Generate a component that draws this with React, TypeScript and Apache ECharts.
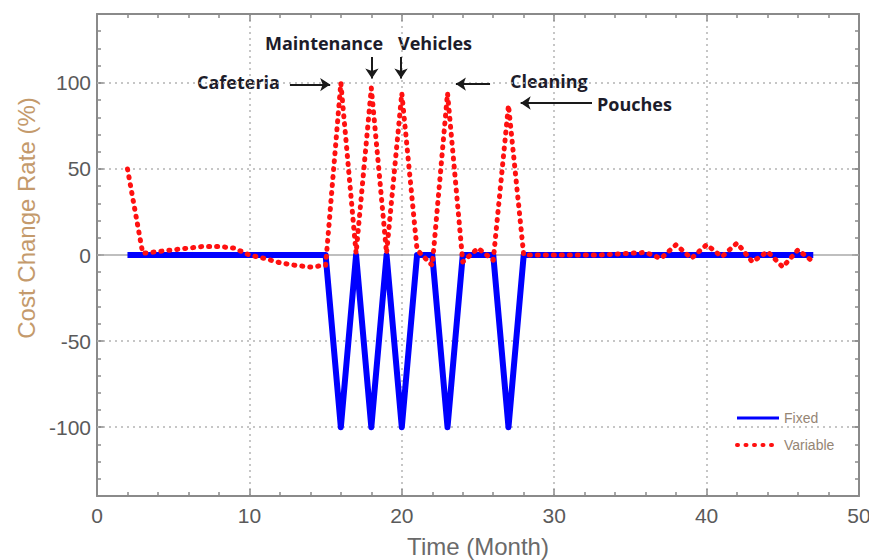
import React, { useEffect, useRef } from "react";
import * as echarts from "echarts";

const months = [2, 3, 4, 5, 6, 7, 8, 9, 10, 11, 12, 13, 14, 15, 16, 17, 18, 19, 20, 21, 22, 23, 24, 25, 26, 27, 28, 29, 30, 31, 32, 33, 34, 35, 36, 37, 38, 39, 40, 41, 42, 43, 44, 45, 46, 47];
const fixedValues = [0, 0, 0, 0, 0, 0, 0, 0, 0, 0, 0, 0, 0, 0, -100, 0, -100, 0, -100, 0, 0, -100, 0, 0, 0, -100, 0, 0, 0, 0, 0, 0, 0, 0, 0, 0, 0, 0, 0, 0, 0, 0, 0, 0, 0, 0];
const variableValues = [50, 1, 2, 3, 4, 5, 5, 4, 0, -2, -4.5, -6, -7, -6, 100, 1, 97, 1, 94, 3, -6, 94, -4, 4, -3, 87, 0, 0, 0, 0, 0, 0, 0.5, 1, 1.5, -2, 6, -2, 6, -1, 7, -4, 2, -7, 3, -4];
const seriesNames = ["Fixed", "Variable"];
const yTickLabels = [-100, -50, 0, 50, 100];
const yGridValues = [-100, -50, 50, 100];
const annotations = [
  { text: "Cafeteria", x: 197, y: 82 },
  { text: "Maintenance", x: 265, y: 43 },
  { text: "Vehicles", x: 398, y: 43 },
  { text: "Cleaning", x: 510, y: 81 },
  { text: "Pouches", x: 597, y: 104 },
];
// arrows in data coordinates: [fromX, fromY, toX, toY]
const arrows = [
  [12.66, 99, 15.3, 99],
  [18.04, 115, 18.04, 102.5],
  [19.95, 115, 19.95, 102.5],
  [25.79, 99.3, 23.55, 99.3],
  [32.48, 88.3, 27.8, 88.3],
];

const FRAME = "#8a8a8a";
const GRID = "#b4b4b4";

export default function App() {
  const ref = useRef<HTMLDivElement>(null);
  useEffect(() => {
    const chart = echarts.init(ref.current as HTMLDivElement, null, { renderer: "svg" });
    const fixedData = months.map((m, i) => [m, fixedValues[i]]);
    const variableData = months.map((m, i) => [m, variableValues[i]]);
    const axisLineStyle = { color: FRAME, width: 2 };
    const option: any = {
      animation: false,
      backgroundColor: "#ffffff",
      grid: { left: 97, top: 14, width: 762, height: 482, containLabel: false, outerBoundsMode: "none" },
      legend: {
        orient: "vertical",
        left: 730,
        top: 406,
        itemWidth: 42,
        itemHeight: 14,
        itemGap: 13,
        selectedMode: false,
        itemStyle: { opacity: 0 },
        textStyle: { fontSize: 14, color: "#958574", fontFamily: "Liberation Sans" },
        data: [
          { name: "Fixed", itemStyle: { opacity: 0 }, lineStyle: { width: 3, color: "#0000ff" } },
          { name: "Variable", itemStyle: { opacity: 0 }, lineStyle: { width: 4, color: "#ff1010", type: [1, 7.5], cap: "round" } },
        ],
      },
      xAxis: [
        {
          type: "value",
          min: 0,
          max: 50,
          interval: 10,
          position: "bottom",
          axisLine: { show: true, onZero: false, lineStyle: axisLineStyle },
          axisTick: { show: true, inside: true, length: 7, lineStyle: { color: FRAME, width: 1.5 } },
          minorTick: { show: true, splitNumber: 5, length: 4, lineStyle: { color: FRAME, width: 1.5 } },
          axisLabel: { fontSize: 21, color: "#5a5a5a", margin: 9, fontFamily: "Liberation Sans" },
          splitLine: { show: true, lineStyle: { color: GRID, width: 1.5, type: [2, 4] } },
          name: "Time (Month)",
          nameLocation: "middle",
          nameGap: 38,
          nameTextStyle: { fontSize: 24, color: "#6a6a6a", fontFamily: "Liberation Sans" },
        },
        {
          type: "value",
          min: 0,
          max: 50,
          interval: 10,
          position: "top",
          axisLine: { show: true, onZero: false, lineStyle: axisLineStyle },
          axisTick: { show: true, inside: true, length: 7, lineStyle: { color: FRAME, width: 1.5 } },
          minorTick: { show: true, splitNumber: 5, length: 4, lineStyle: { color: FRAME, width: 1.5 } },
          axisLabel: { show: false },
          splitLine: { show: false },
        },
      ],
      yAxis: [
        {
          type: "value",
          min: -140,
          max: 140,
          interval: 10,
          position: "left",
          axisLine: { show: true, onZero: false, lineStyle: axisLineStyle },
          axisTick: { show: true, inside: true, length: 4, lineStyle: { color: FRAME, width: 1.5 } },
          axisLabel: {
            fontSize: 21,
            color: "#5a5a5a",
            margin: 6,
            fontFamily: "Liberation Sans",
            formatter: (v: number) => (yTickLabels.indexOf(v) >= 0 ? String(v) : ""),
          },
          splitLine: { show: false },
        },
        {
          type: "value",
          min: -140,
          max: 140,
          interval: 10,
          position: "right",
          axisLine: { show: true, onZero: false, lineStyle: axisLineStyle },
          axisTick: { show: true, inside: true, length: 4, lineStyle: { color: FRAME, width: 1.5 } },
          axisLabel: { show: false },
          splitLine: { show: false },
        },
        {
          type: "value",
          min: -140,
          max: 140,
          position: "left",
          axisLine: { show: false, onZero: false },
          axisTick: { show: true, inside: true, length: 7, customValues: yTickLabels, lineStyle: { color: FRAME, width: 1.5 } },
          axisLabel: { show: false },
          splitLine: { show: false },
        },
        {
          type: "value",
          min: -140,
          max: 140,
          position: "right",
          axisLine: { show: false, onZero: false },
          axisTick: { show: true, inside: true, length: 7, customValues: yTickLabels, lineStyle: { color: FRAME, width: 1.5 } },
          axisLabel: { show: false },
          splitLine: { show: false },
        },
      ],
      series: [
        {
          name: "grid",
          type: "line",
          data: [],
          z: 1,
          silent: true,
          markLine: {
            silent: true,
            symbol: "none",
            label: { show: false },
            z: 1,
            data: [
              ...yGridValues.map((v) => ({ yAxis: v, lineStyle: { color: GRID, width: 1.5, type: [2, 4] } })),
              { yAxis: 0, lineStyle: { color: "#aaaaaa", width: 1.5, type: "solid" } },
            ],
          },
        },
        {
          name: seriesNames[0],
          type: "line",
          data: fixedData,
          symbol: "none",
          z: 3,
          itemStyle: { color: "#0000ff" },
          lineStyle: { color: "#0000ff", width: 6, join: "round" },
        },
        {
          name: seriesNames[1],
          type: "line",
          data: variableData,
          symbol: "none",
          z: 4,
          itemStyle: { color: "#ff1010" },
          lineStyle: { color: "#ff1010", width: 5, type: [1, 7], cap: "round", join: "round" },
        },
        {
          name: "arrows",
          type: "line",
          data: [],
          z: 5,
          silent: true,
          markLine: {
            silent: true,
            symbol: ["none", "arrow"],
            symbolSize: 10,
            label: { show: false },
            lineStyle: { color: "#1a1a1a", width: 2, type: "solid" },
            data: arrows.map((a) => [{ coord: [a[0], a[1]] }, { coord: [a[2], a[3]] }]),
          },
        },
      ],
      graphic: [
        {
          type: "text",
          x: 26,
          y: 218,
          rotation: Math.PI / 2,
          style: {
            text: "Cost Change Rate (%)",
            fontSize: 24,
            fontFamily: "Liberation Sans",
            fill: "#c49a6c",
            align: "center",
            verticalAlign: "middle",
          },
        },
        ...annotations.map((a) => ({
          type: "text",
          x: a.x,
          y: a.y,
          style: {
            text: a.text,
            fontSize: 18,
            fontWeight: "bold",
            fontFamily: "Open Sans",
            fill: "#1c1c2a",
            align: "left",
            verticalAlign: "middle",
          },
        })),
      ],
    };
    chart.setOption(option);
    return () => chart.dispose();
  }, []);
  return (
    <div
      ref={ref}
      style={{ position: "fixed", left: 0, top: 0, width: 869, height: 560, background: "#fff" }}
    />
  );
}
